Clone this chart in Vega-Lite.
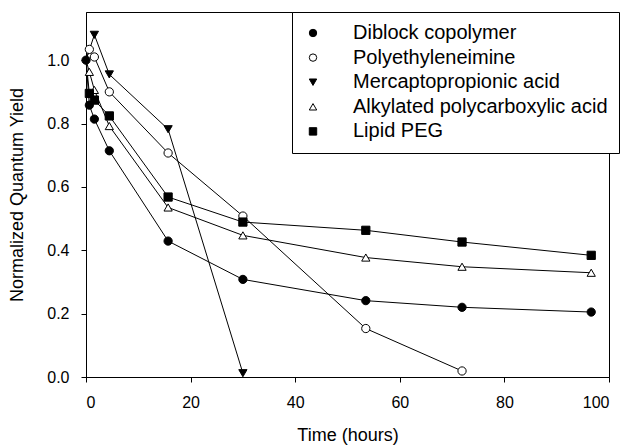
{
  "$schema": "https://vega.github.io/schema/vega-lite/v6.json",
  "width": 523,
  "height": 365,
  "autosize": {"type": "none"},
  "padding": {"left": 86, "top": 12, "right": 17, "bottom": 71},
  "background": "white",
  "config": {
    "font": "Liberation Sans",
    "view": {"stroke": "black", "strokeWidth": 1},
    "axis": {
      "grid": false,
      "domainColor": "black",
      "tickColor": "black",
      "tickSize": 5,
      "labelColor": "black",
      "titleColor": "black",
      "labelFont": "Liberation Sans",
      "titleFont": "Liberation Sans",
      "labelFontSize": 16,
      "titleFontSize": 18,
      "titleFontWeight": "normal"
    },
    "legend": {
      "labelLimit": 0
    }
  },
  "data": {
    "values": [
      {"series": "Diblock copolymer", "t": 0, "y": 1.0},
      {"series": "Diblock copolymer", "t": 0.64, "y": 0.858},
      {"series": "Diblock copolymer", "t": 1.6, "y": 0.814},
      {"series": "Diblock copolymer", "t": 4.46, "y": 0.714},
      {"series": "Diblock copolymer", "t": 15.7, "y": 0.429},
      {"series": "Diblock copolymer", "t": 30, "y": 0.308},
      {"series": "Diblock copolymer", "t": 53.5, "y": 0.241},
      {"series": "Diblock copolymer", "t": 71.9, "y": 0.22},
      {"series": "Diblock copolymer", "t": 96.6, "y": 0.205},
      {"series": "Polyethyleneimine", "t": 0, "y": 1.0},
      {"series": "Polyethyleneimine", "t": 0.64, "y": 1.034},
      {"series": "Polyethyleneimine", "t": 1.6, "y": 1.01},
      {"series": "Polyethyleneimine", "t": 4.46, "y": 0.9},
      {"series": "Polyethyleneimine", "t": 15.7, "y": 0.707},
      {"series": "Polyethyleneimine", "t": 30, "y": 0.508},
      {"series": "Polyethyleneimine", "t": 53.5, "y": 0.153},
      {"series": "Polyethyleneimine", "t": 71.9, "y": 0.019},
      {"series": "Mercaptopropionic acid", "t": 0, "y": 1.0},
      {"series": "Mercaptopropionic acid", "t": 1.6, "y": 1.08},
      {"series": "Mercaptopropionic acid", "t": 4.46, "y": 0.955},
      {"series": "Mercaptopropionic acid", "t": 15.7, "y": 0.782},
      {"series": "Mercaptopropionic acid", "t": 30, "y": 0.012},
      {"series": "Alkylated polycarboxylic acid", "t": 0, "y": 1.0},
      {"series": "Alkylated polycarboxylic acid", "t": 0.64, "y": 0.963},
      {"series": "Alkylated polycarboxylic acid", "t": 1.6, "y": 0.906},
      {"series": "Alkylated polycarboxylic acid", "t": 4.46, "y": 0.792},
      {"series": "Alkylated polycarboxylic acid", "t": 15.7, "y": 0.535},
      {"series": "Alkylated polycarboxylic acid", "t": 30, "y": 0.447},
      {"series": "Alkylated polycarboxylic acid", "t": 53.5, "y": 0.377},
      {"series": "Alkylated polycarboxylic acid", "t": 71.9, "y": 0.348},
      {"series": "Alkylated polycarboxylic acid", "t": 96.6, "y": 0.329},
      {"series": "Lipid PEG", "t": 0, "y": 1.0},
      {"series": "Lipid PEG", "t": 0.64, "y": 0.895},
      {"series": "Lipid PEG", "t": 1.6, "y": 0.874},
      {"series": "Lipid PEG", "t": 4.46, "y": 0.824},
      {"series": "Lipid PEG", "t": 15.7, "y": 0.568},
      {"series": "Lipid PEG", "t": 30, "y": 0.489},
      {"series": "Lipid PEG", "t": 53.5, "y": 0.463},
      {"series": "Lipid PEG", "t": 71.9, "y": 0.426},
      {"series": "Lipid PEG", "t": 96.6, "y": 0.384}
    ]
  },
  "encoding": {
    "x": {
      "field": "t",
      "type": "quantitative",
      "scale": {"domain": [0, 100], "nice": false, "zero": false},
      "axis": {"title": "Time (hours)", "values": [0, 20, 40, 60, 80, 100], "labelPadding": 12, "titlePadding": 16}
    },
    "y": {
      "field": "y",
      "type": "quantitative",
      "scale": {"domain": [0, 1.152], "nice": false, "zero": false},
      "axis": {"title": "Normalized Quantum Yield", "values": [0, 0.2, 0.4, 0.6, 0.8, 1.0], "format": ".1f", "labelPadding": 12, "titlePadding": 20}
    }
  },
  "layer": [
    {
      "mark": {"type": "line", "color": "black", "strokeWidth": 1},
      "encoding": {"detail": {"field": "series"}}
    },
    {
      "transform": [{"filter": "datum.series != 'Diblock copolymer' && datum.t > 0"}],
      "mark": {"type": "point", "filled": false, "size": 68, "stroke": "black", "strokeWidth": 1, "opacity": 1},
      "encoding": {
        "shape": {
          "field": "series",
          "type": "nominal",
          "scale": {
            "domain": ["Diblock copolymer", "Polyethyleneimine", "Mercaptopropionic acid", "Alkylated polycarboxylic acid", "Lipid PEG"],
            "range": ["circle", "circle", "triangle-down", "triangle-up", "square"]
          },
          "legend": {
            "title": null,
            "orient": "none",
            "legendX": 206,
            "legendY": 0,
            "padding": 11,
            "strokeColor": "black",
            "fillColor": "white",
            "labelFont": "Liberation Sans",
            "labelFontSize": 20,
            "labelColor": "black",
            "labelOffset": 30,
            "labelLimit": 0,
            "rowPadding": 4.6,
            "symbolSize": 55,
            "symbolStrokeColor": "black",
            "symbolStrokeWidth": 1,
            "symbolOpacity": 1,
            "encode": {"symbols": {"update": {"stroke": {"value": "black"}, "strokeWidth": {"value": 1}}}}
          }
        },
        "fill": {
          "field": "series",
          "type": "nominal",
          "scale": {
            "domain": ["Diblock copolymer", "Polyethyleneimine", "Mercaptopropionic acid", "Alkylated polycarboxylic acid", "Lipid PEG"],
            "range": ["black", "white", "black", "white", "black"]
          },
          "legend": {
            "title": null,
            "orient": "none",
            "legendX": 206,
            "legendY": 0,
            "padding": 11,
            "strokeColor": "black",
            "fillColor": "white",
            "labelFont": "Liberation Sans",
            "labelFontSize": 20,
            "labelColor": "black",
            "labelOffset": 30,
            "labelLimit": 0,
            "rowPadding": 4.6,
            "symbolSize": 55,
            "symbolStrokeColor": "black",
            "symbolStrokeWidth": 1,
            "symbolOpacity": 1,
            "encode": {"symbols": {"update": {"stroke": {"value": "black"}, "strokeWidth": {"value": 1}}}}
          }
        }
      }
    },
    {
      "transform": [{"filter": "datum.series == 'Diblock copolymer'"}],
      "mark": {"type": "point", "filled": false, "size": 68, "stroke": "black", "strokeWidth": 1, "opacity": 1},
      "encoding": {
        "shape": {
          "field": "series",
          "type": "nominal",
          "scale": {
            "domain": ["Diblock copolymer", "Polyethyleneimine", "Mercaptopropionic acid", "Alkylated polycarboxylic acid", "Lipid PEG"],
            "range": ["circle", "circle", "triangle-down", "triangle-up", "square"]
          },
          "legend": {
            "title": null,
            "orient": "none",
            "legendX": 206,
            "legendY": 0,
            "padding": 11,
            "strokeColor": "black",
            "fillColor": "white",
            "labelFont": "Liberation Sans",
            "labelFontSize": 20,
            "labelColor": "black",
            "labelOffset": 30,
            "labelLimit": 0,
            "rowPadding": 4.6,
            "symbolSize": 55,
            "symbolStrokeColor": "black",
            "symbolStrokeWidth": 1,
            "symbolOpacity": 1,
            "encode": {"symbols": {"update": {"stroke": {"value": "black"}, "strokeWidth": {"value": 1}}}}
          }
        },
        "fill": {
          "field": "series",
          "type": "nominal",
          "scale": {
            "domain": ["Diblock copolymer", "Polyethyleneimine", "Mercaptopropionic acid", "Alkylated polycarboxylic acid", "Lipid PEG"],
            "range": ["black", "white", "black", "white", "black"]
          },
          "legend": {
            "title": null,
            "orient": "none",
            "legendX": 206,
            "legendY": 0,
            "padding": 11,
            "strokeColor": "black",
            "fillColor": "white",
            "labelFont": "Liberation Sans",
            "labelFontSize": 20,
            "labelColor": "black",
            "labelOffset": 30,
            "labelLimit": 0,
            "rowPadding": 4.6,
            "symbolSize": 55,
            "symbolStrokeColor": "black",
            "symbolStrokeWidth": 1,
            "symbolOpacity": 1,
            "encode": {"symbols": {"update": {"stroke": {"value": "black"}, "strokeWidth": {"value": 1}}}}
          }
        }
      }
    }
  ]
}
